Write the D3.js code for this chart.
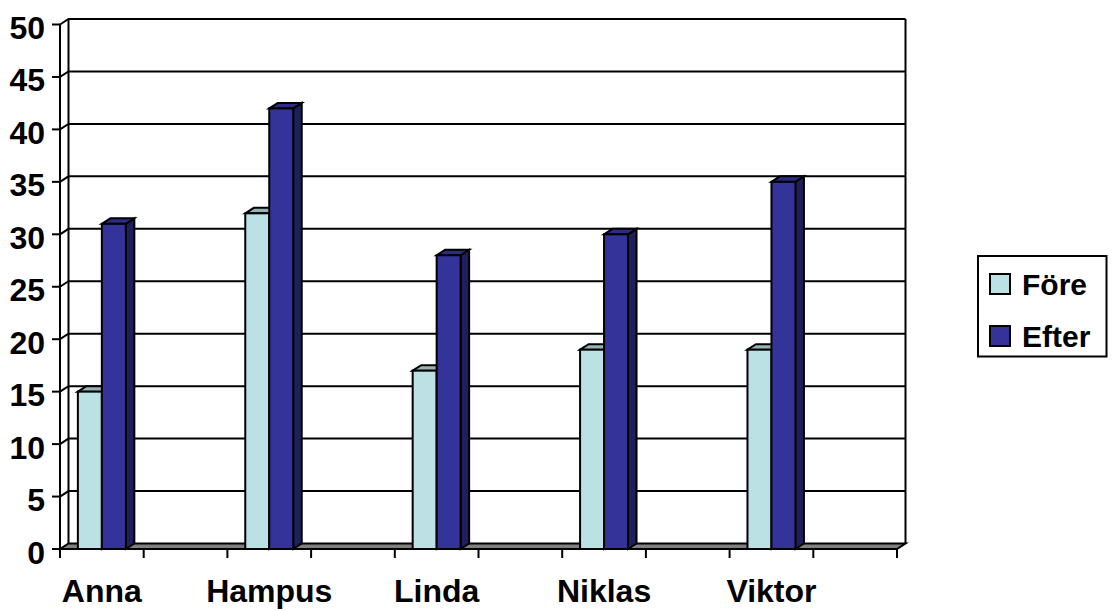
<!DOCTYPE html>
<html>
<head>
<meta charset="utf-8">
<script src="https://cdn.jsdelivr.net/npm/d3@7"></script>
<style>
  html, body { margin: 0; padding: 0; background: #fff; }
  svg { display: block; }
  text { font-family: Arial, "Liberation Sans", sans-serif; font-weight: bold; fill: #000; }
</style>
</head>
<body>
<svg id="chart" width="1113" height="610"></svg>
<script>
// Data
const categories = ["Anna", "Hampus", "Linda", "Niklas", "Viktor"];
const seriesNames = ["Före", "Efter"];
const fore = [15, 32, 17, 19, 19];
const efter = [31, 42, 28, 30, 35];
const yTicks = [0, 5, 10, 15, 20, 25, 30, 35, 40, 45, 50];

// Colours: front, top and side faces of each series
const palette = {
  "Före":  { front: "#BBE1E4", top: "#94B4B7", side: "#7FA0A3" },
  "Efter": { front: "#333399", top: "#2C2C86", side: "#1F1F5C" }
};

const svg = d3.select("#chart");

// Plot geometry (front plane) and depth offset of the 3D box
const plotLeft = 60, plotRight = 897, plotTop = 24.5, plotBottom = 549;
const dx = 8.5, dy = -5.5;

const y = d3.scaleLinear().domain([0, 50]).range([plotBottom, plotTop]);

// Each name occupies one slot followed by an empty slot
const slots = [];
categories.forEach(c => { slots.push(c); slots.push(c + "\u0000gap"); });
const x = d3.scaleBand().domain(slots).range([plotLeft, plotRight]).padding(0);
const xs = d3.scaleBand().domain(seriesNames).range([0, x.bandwidth()])
  .paddingInner(0).paddingOuter(0.745);

const line = (g, pts, w = 2) => g.append("path")
  .attr("d", d3.line()(pts)).attr("fill", "none")
  .attr("stroke", "#000").attr("stroke-width", w).attr("stroke-linejoin", "miter");

const walls = svg.append("g");

// Floor
walls.append("path")
  .attr("d", d3.line()([[plotLeft, plotBottom], [plotRight, plotBottom], [plotRight + dx, plotBottom + dy], [plotLeft + dx, plotBottom + dy]]) + "Z")
  .attr("fill", "#808080").attr("stroke", "#000").attr("stroke-width", 2);

// Gridlines on the back wall, with connectors across the side wall
yTicks.forEach(v => {
  if (v === 0) return;
  const yf = y(v);
  line(walls, [[plotLeft, yf], [plotLeft + dx, yf + dy], [plotRight + dx, yf + dy]]);
});

// Wall edges
line(walls, [[plotLeft, plotTop], [plotLeft, plotBottom]]);
line(walls, [[plotLeft + dx, plotTop + dy], [plotLeft + dx, plotBottom + dy]]);
line(walls, [[plotRight + dx, plotTop + dy], [plotRight + dx, plotBottom + dy]]);

// Y axis ticks and labels
const yAxis = svg.append("g");
yTicks.forEach(v => {
  line(yAxis, [[plotLeft - 8, y(v)], [plotLeft, y(v)]]);
  yAxis.append("text")
    .attr("x", 45).attr("y", y(v) + 14.5)
    .attr("text-anchor", "end").attr("font-size", 32)
    .text(v);
});

// X axis ticks at every slot boundary, labels under named slots
const xAxis = svg.append("g");
const bounds = slots.map(s => x(s)).concat([plotRight]);
bounds.forEach(b => line(xAxis, [[b, plotBottom], [b, plotBottom + 9]]));
categories.forEach(c => {
  xAxis.append("text")
    .attr("x", x(c) + x.bandwidth() / 2).attr("y", 602)
    .attr("text-anchor", "middle").attr("font-size", 32)
    .text(c);
});

// 3D columns
const bars = svg.append("g");
const values = { "Före": fore, "Efter": efter };
categories.forEach((c, i) => {
  seriesNames.forEach(s => {
    const v = values[s][i];
    const x0 = x(c) + xs(s), x1 = x0 + xs.bandwidth();
    const y0 = y(v), yb = y(0);
    const col = palette[s];
    const g = bars.append("g")
      .attr("stroke", "#000").attr("stroke-width", 2).attr("stroke-linejoin", "miter");
    g.append("path")
      .attr("d", d3.line()([[x1, y0], [x1 + dx, y0 + dy], [x1 + dx, yb + dy], [x1, yb]]) + "Z")
      .attr("fill", col.side);
    g.append("path")
      .attr("d", d3.line()([[x0, y0], [x0 + dx, y0 + dy], [x1 + dx, y0 + dy], [x1, y0]]) + "Z")
      .attr("fill", col.top);
    g.append("rect")
      .attr("x", x0).attr("y", y0).attr("width", x1 - x0).attr("height", yb - y0)
      .attr("fill", col.front);
  });
});

// Legend
const legend = svg.append("g");
legend.append("rect")
  .attr("x", 978).attr("y", 256).attr("width", 128.5).attr("height", 100.5)
  .attr("fill", "#fff").attr("stroke", "#000").attr("stroke-width", 2);
seriesNames.forEach((s, i) => {
  const cy = 284 + i * 52;
  legend.append("rect")
    .attr("x", 990).attr("y", cy - 10).attr("width", 20).attr("height", 20)
    .attr("fill", palette[s].front).attr("stroke", "#000").attr("stroke-width", 2);
  legend.append("text")
    .attr("x", 1022).attr("y", cy + 11)
    .attr("font-size", 30)
    .text(s);
});
</script>
</body>
</html>
